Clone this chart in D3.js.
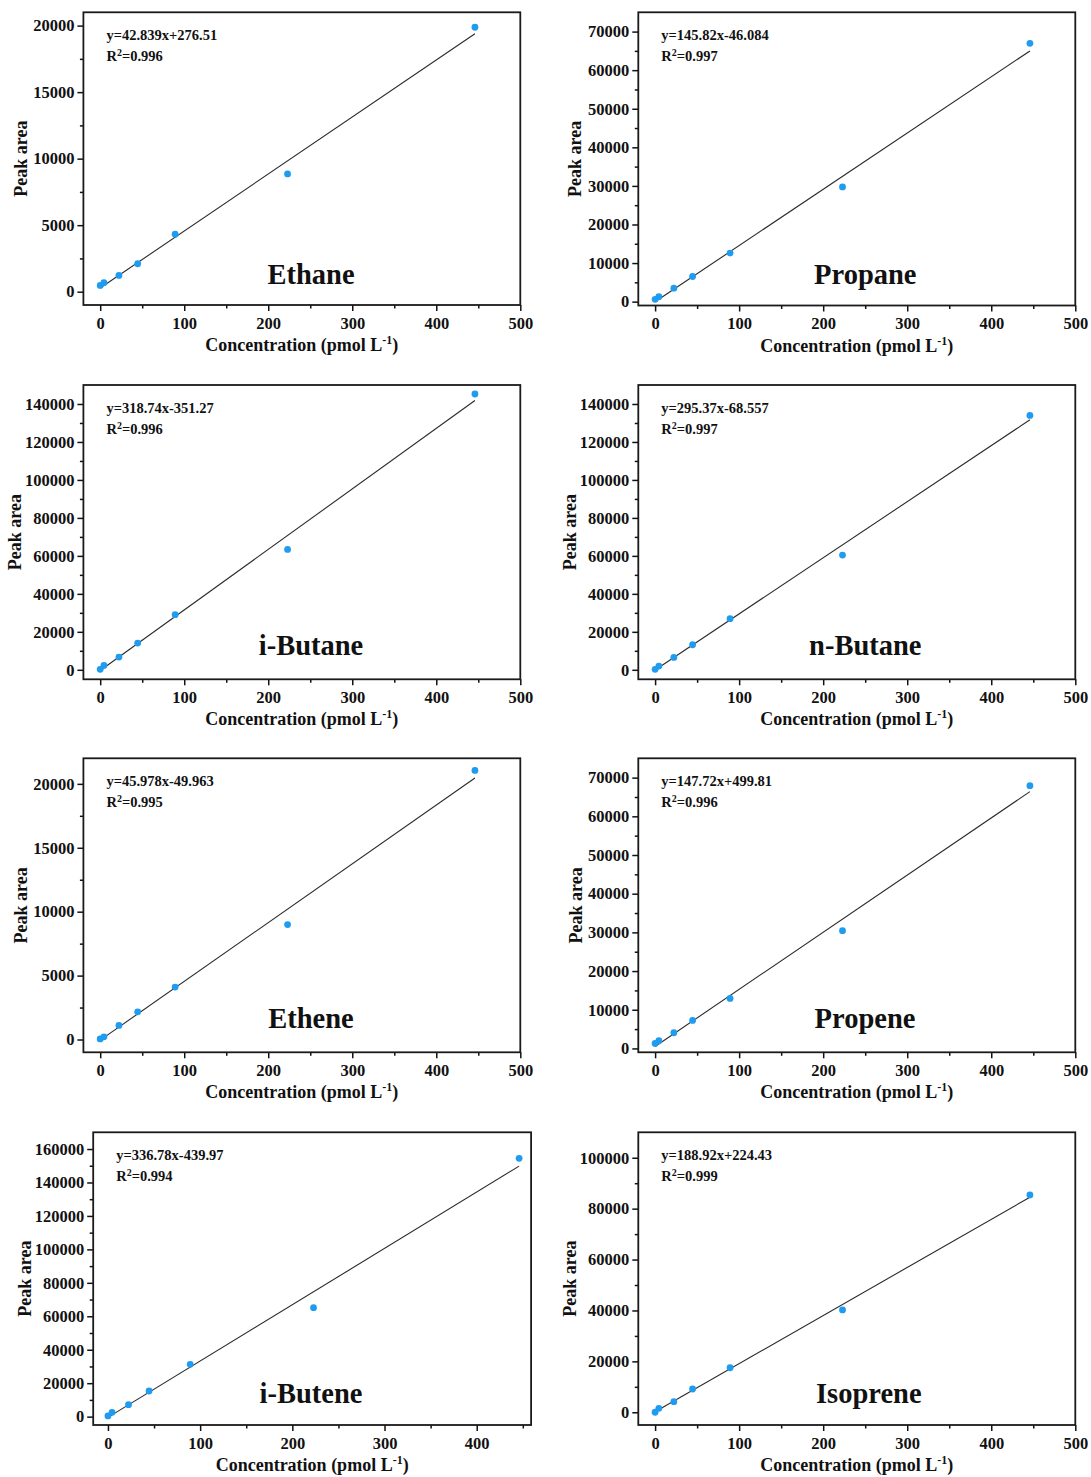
<!DOCTYPE html>
<html>
<head>
<meta charset="utf-8">
<script src="https://cdn.jsdelivr.net/npm/d3@7"></script>
<style>
  body { margin: 0; background: #fff; }
  svg { display: block; }
  text { font-family: "Liberation Serif", "Times New Roman", serif; font-weight: bold; fill: #111; }
</style>
</head>
<body>
<svg id="chart" width="1091" height="1477"></svg>
<script>
// ---- data ----
const compounds = ["Ethane", "Propane", "i-Butane", "n-Butane", "Ethene", "Propene", "i-Butene", "Isoprene"];
const concentration = [0, 4.46, 22.3, 44.6, 89.2, 223, 446];

const ethane = [475, 675, 1225, 2100, 4325, 8850, 19875];
const propane = [610, 1300, 3480, 6520, 12600, 29740, 66960];
const iButane = [250, 2290, 6690, 14090, 29050, 63390, 145270];
const nButane = [250, 1940, 6520, 13200, 26940, 60400, 134000];
const ethene = [50, 210, 1100, 2170, 4100, 8990, 21050];
const propene = [1290, 1980, 4050, 7240, 12930, 30430, 67930];
const iButene = [400, 2590, 7170, 15340, 31280, 65150, 154420];
const isoprene = [0, 1570, 4180, 9140, 17490, 40210, 85380];
const peakAreas = [ethane, propane, iButane, nButane, ethene, propene, iButene, isoprene];

const slopes = [42.839, 145.82, 318.74, 295.37, 45.978, 147.72, 336.78, 188.92];
const intercepts = [276.51, -46.084, -351.27, -68.557, -49.963, 499.81, -439.97, 224.43];
const r2 = ["0.996", "0.997", "0.996", "0.997", "0.995", "0.996", "0.994", "0.999"];

const xDomains = [[-20, 500], [-20, 500], [-20, 500], [-20, 500], [-20, 500], [-20, 500], [-16, 459], [-20, 500]];
const xTickMax = [500, 500, 500, 500, 500, 500, 400, 500];
const yDomains = [[-1000, 21000], [-1000, 75000], [-5000, 150000], [-5000, 150000],
                  [-1000, 22000], [-1000, 75000], [-5000, 170000], [-5000, 110000]];
const yTickStep = [5000, 10000, 20000, 20000, 5000, 10000, 20000, 20000];
const yTickMax = [20000, 70000, 140000, 140000, 20000, 70000, 160000, 100000];

// ---- layout (pixels) ----
const frames = [
  { l: 83.4, t: 12.3, r: 520.3, b: 305 },
  { l: 638.3, t: 12.3, r: 1075.3, b: 305.5 },
  { l: 83.4, t: 385, r: 520.3, b: 679.3 },
  { l: 638.3, t: 385, r: 1075.3, b: 679.3 },
  { l: 83.4, t: 758.3, r: 520.3, b: 1052.3 },
  { l: 638.3, t: 758.3, r: 1075.3, b: 1052.3 },
  { l: 93.2, t: 1132.3, r: 531.1, b: 1425 },
  { l: 638.3, t: 1132.3, r: 1075.3, b: 1425 }
];
const nameX = [311, 865.3, 311, 865.3, 311, 865, 311, 868.8];
const nameDy = [21, 21.5, 24, 24, 24.5, 24.5, 21.7, 21.7];
const yTitleDx = [62.5, 63.7, 68.8, 68.3, 62.5, 62.7, 68.2, 68.3];

const pointColor = "#1f9cf0";
const ink = "#111";

const svg = d3.select("#chart");

compounds.forEach((name, i) => {
  const f = frames[i];
  const x = d3.scaleLinear().domain(xDomains[i]).range([f.l, f.r]);
  const y = d3.scaleLinear().domain(yDomains[i]).range([f.b, f.t]);
  const g = svg.append("g").attr("class", "panel");

  const xMajor = d3.range(0, xTickMax[i] + 1, 100);
  const xMinor = d3.range(50, xDomains[i][1], 100);
  const yMajor = d3.range(0, yTickMax[i] + 1, yTickStep[i]);
  const yMinor = d3.range(yTickStep[i] / 2, yDomains[i][1] - 1, yTickStep[i]);

  function styleAxis(sel) {
    sel.attr("font-family", null).attr("font-size", null).style("color", ink);
    sel.select(".domain").remove();
    sel.selectAll("line").attr("stroke-width", 1.5);
  }

  // minor ticks
  g.append("g")
    .attr("transform", `translate(0,${f.b})`)
    .call(d3.axisBottom(x).tickValues(xMinor).tickSize(3.5).tickFormat(""))
    .call(styleAxis);
  g.append("g")
    .attr("transform", `translate(${f.l},0)`)
    .call(d3.axisLeft(y).tickValues(yMinor).tickSize(3.5).tickFormat(""))
    .call(styleAxis);

  // major ticks + labels
  const gx = g.append("g")
    .attr("transform", `translate(0,${f.b})`)
    .call(d3.axisBottom(x).tickValues(xMajor).tickSize(6).tickPadding(6).tickFormat(d3.format("d")))
    .call(styleAxis);
  gx.selectAll("text").style("font-size", "16.5px");

  const gy = g.append("g")
    .attr("transform", `translate(${f.l},0)`)
    .call(d3.axisLeft(y).tickValues(yMajor).tickSize(6).tickPadding(3).tickFormat(d3.format("d")))
    .call(styleAxis);
  gy.selectAll("text").style("font-size", "16.5px");

  // frame
  g.append("rect")
    .attr("x", f.l).attr("y", f.t)
    .attr("width", f.r - f.l).attr("height", f.b - f.t)
    .attr("fill", "none").attr("stroke", "#1a1a1a").attr("stroke-width", 1.8);

  // fitted line
  const x0 = d3.min(concentration), x1 = d3.max(concentration);
  g.append("line")
    .attr("x1", x(x0)).attr("y1", y(slopes[i] * x0 + intercepts[i]))
    .attr("x2", x(x1)).attr("y2", y(slopes[i] * x1 + intercepts[i]))
    .attr("stroke", "#2a2a2a").attr("stroke-width", 1.1);

  // points
  g.selectAll("circle.pt")
    .data(concentration.map((c, k) => [c, peakAreas[i][k]]))
    .join("circle")
    .attr("class", "pt")
    .attr("cx", (d) => x(d[0]))
    .attr("cy", (d) => y(d[1]))
    .attr("r", 3.4)
    .attr("fill", pointColor);

  // equation
  const b = intercepts[i];
  const eq = "y=" + slopes[i] + "x" + (b < 0 ? "-" : "+") + Math.abs(b);
  g.append("text")
    .attr("x", f.l + 23).attr("y", f.t + 28)
    .style("font-size", "14.5px")
    .text(eq);
  const rt = g.append("text")
    .attr("x", f.l + 23).attr("y", f.t + 48.5)
    .style("font-size", "14.5px");
  rt.append("tspan").text("R");
  rt.append("tspan").attr("dy", -5).style("font-size", "10px").text("2");
  rt.append("tspan").attr("dy", 5).text("=" + r2[i]);

  // compound name
  g.append("text")
    .attr("x", nameX[i]).attr("y", f.b - nameDy[i])
    .attr("text-anchor", "middle")
    .style("font-size", "28.5px")
    .text(name);

  // axis titles
  const xt = g.append("text")
    .attr("x", (f.l + f.r) / 2).attr("y", f.b + 46)
    .attr("text-anchor", "middle")
    .style("font-size", "18px");
  xt.append("tspan").text("Concentration (pmol L");
  xt.append("tspan").attr("dy", -7).style("font-size", "12px").text("-1");
  xt.append("tspan").attr("dy", 7).text(")");

  g.append("text")
    .attr("transform", `translate(${f.l - yTitleDx[i]},${(f.t + f.b) / 2}) rotate(-90)`)
    .attr("text-anchor", "middle")
    .attr("dy", "0.35em")
    .style("font-size", "18px")
    .text("Peak area");
});
</script>
</body>
</html>
